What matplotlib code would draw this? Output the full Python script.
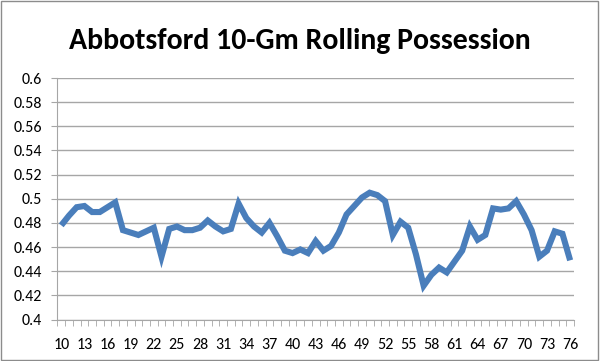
import matplotlib
matplotlib.use("Agg")
import matplotlib.pyplot as plt
import matplotlib.patches as mpatches
import numpy as np

# Dados
jogos = list(range(10, 77))
posse = [0.478, 0.486, 0.493, 0.494, 0.489, 0.489, 0.493, 0.497, 0.474, 0.472,
         0.470, 0.473, 0.476, 0.452, 0.475, 0.477, 0.474, 0.474, 0.476, 0.482,
         0.477, 0.473, 0.475, 0.496, 0.484, 0.477, 0.472, 0.480, 0.469, 0.457,
         0.455, 0.458, 0.455, 0.465, 0.457, 0.461, 0.472, 0.487, 0.494, 0.501,
         0.505, 0.503, 0.498, 0.470, 0.481, 0.476, 0.454, 0.428, 0.437, 0.443,
         0.439, 0.448, 0.457, 0.477, 0.466, 0.470, 0.492, 0.491, 0.492, 0.498,
         0.487, 0.474, 0.452, 0.457, 0.473, 0.471, 0.449]
titulo = "Abbotsford 10-Gm Rolling Possession"

fig = plt.figure(figsize=(6, 3.61), dpi=100)
ax = fig.add_axes([57.4 / 600, 1 - 319.5 / 361, (574 - 57.4) / 600, (319.5 - 78) / 361])

x = np.arange(len(jogos))
ax.plot(x, posse, color="#4a7ebb", lw=4.4, solid_joinstyle="miter", solid_capstyle="butt")

ax.set_xlim(-0.5, len(jogos) - 0.5)
ax.set_ylim(0.4, 0.6)
ax.set_yticks(np.arange(0.4, 0.601, 0.02))
ax.set_yticklabels([f"{v:g}" for v in np.round(np.arange(0.4, 0.601, 0.02), 2)])
ax.set_xticks(x[::3])
ax.set_xticklabels([str(j) for j in jogos[::3]])
ax.set_xticks(np.arange(-0.5, len(jogos)), minor=True)

ax.grid(axis="y", color="#a6a6a6", lw=1)
ax.set_axisbelow(True)
for lado in ["top", "right"]:
    ax.spines[lado].set_visible(False)
ax.spines["left"].set_color("#a6a6a6")
ax.spines["bottom"].set_color("#a6a6a6")
ax.tick_params(axis="x", which="major", length=0, pad=13, labelsize=11.5)
ax.tick_params(axis="x", which="minor", length=4, color="#a6a6a6", direction="out")
ax.tick_params(axis="y", length=4, color="#a6a6a6", pad=7, labelsize=11.5)
for t in ax.get_xticklabels() + ax.get_yticklabels():
    t.set_fontfamily("Carlito")

fig.text(0.5, 1 - 41 / 361, titulo, ha="center", va="center",
         fontsize=21.5, fontweight="bold", family="Carlito")

# Borda do gráfico
fig.patches.append(mpatches.Rectangle((0.002, 0.003), 0.995, 0.993, transform=fig.transFigure,
                                      fill=False, edgecolor="#8c8c8c", lw=1))

fig.savefig("out.png", dpi=100)
